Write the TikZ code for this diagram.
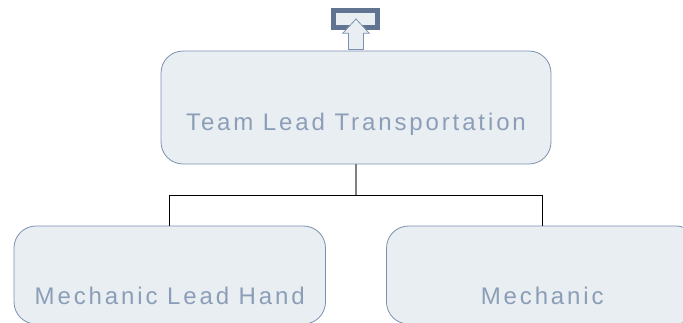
\documentclass[tikz,border=0pt]{standalone}
\usepackage{fontspec}
\setmainfont{Liberation Sans}[LetterSpace=12]
\definecolor{boxfill}{RGB}{232,238,242}
\definecolor{boxline}{RGB}{124,145,176}
\definecolor{boxtext}{RGB}{140,158,183}
\definecolor{iconline}{RGB}{96,115,145}
\definecolor{stemgray}{RGB}{128,128,128}
\tikzset{
  orgbox/.style={draw=boxline, line width=0.8pt, fill=boxfill, rounded corners=22pt,
    text=boxtext, font=\fontsize{24}{28}\selectfont, inner sep=0pt},
  stemline/.style={draw=stemgray, line width=2pt},
  busline/.style={draw=black, line width=1.3pt},
}
\begin{document}
\begin{tikzpicture}[x=1pt,y=-1pt]
\useasboundingbox (0,0) rectangle (683,322);
% top icon
\node[draw=iconline, line width=4.5pt, fill=boxfill, minimum width=44pt, minimum height=17pt, inner sep=0pt] (icon) at (355.5,19) {};
\draw[draw=boxline, line width=0.8pt, fill=boxfill] (356,19) -- (369.3,33.3) -- (363.5,33.3) -- (363.5,49.5) -- (348.5,49.5) -- (348.5,33.3) -- (342.7,33.3) -- cycle;
% boxes
\node[orgbox, minimum width=390pt, minimum height=113pt, text height=50pt, text depth=5pt] (top) at (356,107.5) {Team Lead Transportation};
\node[orgbox, minimum width=311.5pt, minimum height=98pt, text height=62pt, text depth=4pt] (left) at (169.75,275) {Mechanic Lead Hand};
\node[orgbox, minimum width=311.5pt, minimum height=98pt, text height=62pt, text depth=4pt] (right) at (542.25,275) {Mechanic};
% connectors
\coordinate (bus) at (356,195.5);
\draw[stemline] (top.south) -- (bus);
\draw[busline] (left.north) -- (left.north |- bus) -- (right.north |- bus) -- (right.north);
\end{tikzpicture}
\end{document}
